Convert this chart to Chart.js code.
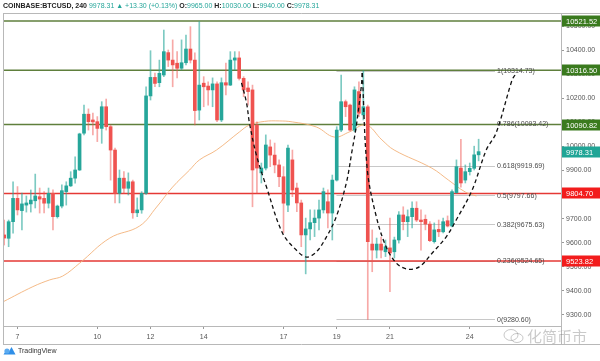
<!DOCTYPE html>
<html><head><meta charset="utf-8">
<script src="https://cdn.jsdelivr.net/npm/chart.js@4.4.1/dist/chart.umd.min.js"></script>
<style>
html,body{margin:0;padding:0;background:#fff;width:600px;height:361px;overflow:hidden;}
#wrap{position:relative;width:600px;height:361px;}
canvas{position:absolute;left:0;top:0;}
#title{position:absolute;left:3px;top:1px;font:7px "Liberation Sans",Arial,sans-serif;color:#444;white-space:nowrap;line-height:10px;}
#title b{font-weight:bold;color:#222}
#title .g{color:#26a69a}
#footer{position:absolute;left:3px;top:345px;font:7px "Liberation Sans",Arial,sans-serif;color:#333;display:flex;align-items:center;height:10px;}
#footer svg{margin-right:2px}
#wm{position:absolute;left:503px;top:325px;font:15px "Noto Sans CJK SC",sans-serif;color:rgba(120,120,120,0.4);white-space:nowrap;display:flex;align-items:center;}
</style></head>
<body><div id="wrap"><canvas id="c" width="600" height="361"></canvas>
<div id="title"><b>COINBASE:BTCUSD, 240</b> <span class="g">9978.31 ▲ +13.30 (+0.13%)</span> <b>O:</b><span class="g">9965.00</span> <b>H:</b><span class="g">10030.00</span> <b>L:</b><span class="g">9940.00</span> <b>C:</b><span class="g">9978.31</span></div>
<div id="footer"><svg width="13" height="9" viewBox="0 0 13 9"><path d="M0.5 8.5 L4 3 L6 5.5 L8.5 1 L12.5 8.5 Z" fill="#2f8fe8"/><circle cx="4" cy="5" r="2.6" fill="#5aaaf0"/></svg>TradingView</div>
<div id="wm"><svg width="22" height="16" viewBox="0 0 22 16" style="margin-right:2px"><ellipse cx="8" cy="7" rx="7" ry="5.5" fill="none" stroke="rgba(120,120,120,0.4)" stroke-width="1"/><ellipse cx="14" cy="10" rx="6" ry="4.5" fill="none" stroke="rgba(120,120,120,0.4)" stroke-width="1"/></svg>化简币市</div>
</div>
<script>
// ---- data ----
const START_DAY = 6.5;           // first 4h candle opens on the 6th, 12:00
const open  = [9632,9618,9687,9784,9733,9756,9761,9774,9791,9784,9764,9805,9708,9752,9812,9836,9868,9902,10055,10134,10110,10103,10075,10165,10082,9985,9805,9868,9826,9853,9724,9736,9805,10210,10287,10265,10297,10390,10359,10346,10325,10348,10405,10359,10151,10263,10251,10235,10260,10110,10265,10255,10359,10368,10283,10243,10235,10089,9890,9910,9998,9964,9923,9874,9756,9944,9827,9765,9632,9657,9683,9702,9736,9770,9723,9860,10068,10186,10172,10068,10228,10131,10165,9594,9569,9594,9562,9578,9562,9611,9715,9687,9708,9743,9694,9697,9677,9604,9655,9645,9691,9669,9808,9910,9860,9895,9909,9965];
const high  = [9694,9694,9853,9833,9806,9794,9819,9885,9827,9812,9827,9819,9756,9840,9853,9895,9957,10055,10172,10156,10139,10124,10186,10197,10089,9993,9902,9895,9890,9860,9786,9812,10248,10398,10305,10359,10484,10401,10443,10394,10443,10463,10498,10389,10519,10290,10269,10285,10269,10285,10347,10394,10394,10394,10290,10269,10255,10102,9931,10048,10027,10014,9944,9916,10006,9985,9848,9777,9702,9736,9736,9777,9827,9819,9881,10082,10297,10193,10176,10248,10269,10314.73,10172,9653,9619,9623,9611,9702,9623,9729,9749,9736,9770,9770,9736,9715,9687,9682,9694,9702,9711,9819,9944,10030,9923,9931,10001,10030];
const low   = [9590,9583,9639,9715,9653,9727,9727,9744,9723,9723,9744,9653,9702,9744,9756,9833,9847,9900,10048,10068,10048,10020,10013,10068,9860,9765,9765,9805,9798,9701,9708,9722,9800,10193,10248,10248,10290,10332,10248,10285,10318,10339,10347,10089,10110,10165,10172,10165,10103,10103,10214,10253,10318,10276,10207,10172,9749,9806,9848,9902,9916,9890,9833,9640,9729,9791,9729,9583,9470,9611,9625,9653,9723,9661,9611,9856,10061,10124,10064,10061,10124,10110,9280.6,9479,9536,9536,9542,9396,9536,9598,9653,9625,9661,9687,9569,9653,9604,9598,9625,9640,9665,9665,9805,9831,9848,9881,9902,9940];
const close = [9619,9687,9784,9736,9761,9765,9777,9794,9781,9764,9805,9708,9752,9816,9836,9868,9902,10052,10134,10103,10102,10075,10165,10082,9985,9805,9868,9826,9853,9724,9736,9805,10210,10287,10262,10304,10394,10359,10339,10325,10348,10405,10359,10149,10255,10248,10235,10260,10110,10265,10255,10359,10368,10283,10235,10228,9902,9910,9910,10006,9964,9923,9874,9764,9993,9819,9765,9632,9657,9683,9702,9736,9812,9723,9860,10068,10186,10165,10068,10235,10138,10165,9604,9569,9594,9569,9583,9557,9611,9715,9687,9708,9743,9694,9687,9677,9608,9653,9645,9687,9669,9812,9916,9848,9895,9909,9965,9978.31];
const candleDays = open.map((_, i) => START_DAY + i * 4 / 24);

const xTickDays = [7, 10, 12, 14, 17, 19, 21, 24];
const yTickValues = [9300, 9400, 9500, 9600, 9700, 9800, 9900, 10000, 10100, 10200, 10300, 10400, 10500];

const maDays   = [6.46,7.58,8.21,8.70,9.34,10.47,11.59,12.23,12.83,13.47,13.84,14.48,15.34,15.72,16.28,16.84,17.33,18.23,18.91,19.47,20.10,20.70,21.16,22.57,23.20,23.84,24.25];
const maValues = [9354,9417,9445,9461,9515,9619,9669,9748,9831,9902,9944,9985,10060,10089,10104,10106,10102,10081,10039,10060,10089,10027,9985,9910,9860,9810,9794];

const cup1Days   = [15.42,15.61,15.72,15.98,16.36,16.96,17.48,17.86,18.23,18.61,18.98,19.36,19.58,19.73,19.92,19.96];
const cup1Values = [10264,10181,10097,9964,9831,9640,9569,9540,9561,9623,9707,9848,9985,10081,10247,10305];
const cup2Days   = [19.96,20.15,20.49,20.86,21.24,21.65,22.10,22.59,23.11,23.49,24.09,24.62,24.99,25.59,25.70];
const cup2Values = [10305,9902,9707,9582,9515,9490,9499,9557,9623,9694,9819,9985,10056,10276,10297];

const greenLevels = [10521.52, 10316.50, 10090.82];
const redLevels   = [9804.70, 9523.82];
const lastPrice   = 9978.31;
const fibRatios = ['1', '0.786', '0.618', '0.5', '0.382', '0.236', '0'];
const fibValues = [10314.73, 10093.42, 9919.69, 9797.66, 9675.63, 9524.65, 9280.60];
const fibStartDay = 18.99, fibEndDay = 24.95;

// ---- styles ----
const UP = '#26a69a', DOWN = '#ef5350';
const UP_WICK = 'rgba(38,166,154,0.6)', DOWN_WICK = 'rgba(239,83,80,0.5)';
const GREEN_LINE = '#5f7f3c', GREEN_BOX = '#3a7a1e', RED_LINE = '#e53935', RED_BOX = '#f21c1c';
const FONT = '"Liberation Sans", Arial, sans-serif';

const upFlags = close.map((c, i) => c >= open[i]);

const overlay = {
  id: 'overlay',
  beforeDatasetsDraw(chart) {
    const {ctx, chartArea: a, scales: {x, y}} = chart;
    ctx.save();
    const fx1 = x.getPixelForValue(fibStartDay), fx2 = x.getPixelForValue(fibEndDay);
    ctx.strokeStyle = '#c8c8c8'; ctx.lineWidth = 1;
    fibValues.forEach(v => {
      const py = Math.round(y.getPixelForValue(v)) + 0.5;
      ctx.beginPath(); ctx.moveTo(fx1, py); ctx.lineTo(fx2, py); ctx.stroke();
    });
    ctx.lineWidth = 1.5;
    ctx.strokeStyle = GREEN_LINE;
    greenLevels.forEach(v => { const py = y.getPixelForValue(v); ctx.beginPath(); ctx.moveTo(a.left, py); ctx.lineTo(a.right, py); ctx.stroke(); });
    ctx.strokeStyle = RED_LINE;
    redLevels.forEach(v => { const py = y.getPixelForValue(v); ctx.beginPath(); ctx.moveTo(a.left, py); ctx.lineTo(a.right, py); ctx.stroke(); });
    ctx.restore();
  },
  afterDraw(chart) {
    const {ctx, chartArea: a, scales: {x, y}} = chart;
    ctx.save();
    const fx2 = x.getPixelForValue(fibEndDay);
    ctx.font = '7px ' + FONT; ctx.fillStyle = '#4a4a4a'; ctx.textBaseline = 'middle'; ctx.textAlign = 'left';
    fibValues.forEach((v, i) => {
      ctx.fillText(fibRatios[i] + '(' + v.toFixed(2) + ')', fx2 + 2, y.getPixelForValue(v) + 0.5);
    });
    ctx.strokeStyle = '#b8b8b8'; ctx.lineWidth = 1;
    ctx.beginPath();
    ctx.moveTo(a.left + 0.5, a.top + 0.5); ctx.lineTo(600, a.top + 0.5);
    ctx.moveTo(a.left + 0.5, a.top); ctx.lineTo(a.left + 0.5, 344.5);
    ctx.moveTo(a.left, 344.5); ctx.lineTo(600, 344.5);
    ctx.moveTo(a.right + 0.5, a.bottom); ctx.lineTo(a.right + 0.5, 344.5);
    ctx.stroke();
    const box = (v, col) => {
      const py = y.getPixelForValue(v);
      ctx.fillStyle = col; ctx.fillRect(a.right + 1, Math.round(py) - 5.5, 38, 11);
      ctx.fillStyle = '#fff'; ctx.font = '7.5px ' + FONT; ctx.textBaseline = 'middle';
      ctx.fillText(v.toFixed(2), a.right + 5, Math.round(py) + 0.5);
    };
    greenLevels.forEach(v => box(v, GREEN_BOX));
    redLevels.forEach(v => box(v, RED_BOX));
    box(lastPrice, '#20a596');
    ctx.restore();
  }
};

new Chart(document.getElementById('c'), {
  type: 'bar',
  data: {
    datasets: [
      { type: 'line', data: cup1Days.map((d, i) => ({x: d, y: cup1Values[i]})), borderColor: '#111', borderWidth: 1.3, borderDash: [4, 3], pointRadius: 0, tension: 0.35, order: 0 },
      { type: 'line', data: cup2Days.map((d, i) => ({x: d, y: cup2Values[i]})), borderColor: '#111', borderWidth: 1.3, borderDash: [4, 3], pointRadius: 0, tension: 0.35, order: 0 },
      { type: 'bar', data: candleDays.map((d, i) => ({x: d, y: [open[i], close[i]]})), backgroundColor: upFlags.map(u => u ? UP : DOWN), barThickness: 3, minBarLength: 1, grouped: false, borderWidth: 0, order: 1 },
      { type: 'bar', data: candleDays.map((d, i) => ({x: d, y: [low[i], high[i]]})), backgroundColor: upFlags.map(u => u ? UP_WICK : DOWN_WICK), barThickness: 1, grouped: false, borderWidth: 0, order: 2 },
      { type: 'line', data: maDays.map((d, i) => ({x: d, y: maValues[i]})), borderColor: '#f3b27a', borderWidth: 0.9, pointRadius: 0, tension: 0.4, order: 3 }
    ]
  },
  options: {
    responsive: false, devicePixelRatio: 1, animation: false,
    layout: {padding: {left: 3, top: 13, right: 0, bottom: 15}},
    plugins: {legend: {display: false}, tooltip: {enabled: false}},
    scales: {
      x: {
        type: 'linear', min: 6.455, max: 27.43, offset: false,
        afterBuildTicks: s => { s.ticks = xTickDays.map(v => ({value: v})); },
        ticks: {autoSkip: false, maxRotation: 0, font: {size: 7, family: FONT}, color: '#555', padding: 4, callback: v => String(v)},
        grid: {drawOnChartArea: false, tickLength: 3, color: '#999', offset: false},
        border: {color: '#b8b8b8'},
        afterFit: s => { s.height = 20; }
      },
      y: {
        type: 'linear', position: 'right', min: 9253.3, max: 10554.8,
        afterBuildTicks: s => { s.ticks = yTickValues.map(v => ({value: v})); },
        ticks: {font: {size: 7, family: FONT}, color: '#555', padding: 2, callback: v => Number(v).toFixed(2)},
        grid: {drawOnChartArea: false, tickLength: 3, color: '#999'},
        border: {color: '#b8b8b8'},
        afterFit: s => { s.width = 39; }
      }
    }
  },
  plugins: [overlay]
});
</script>
</body></html>
